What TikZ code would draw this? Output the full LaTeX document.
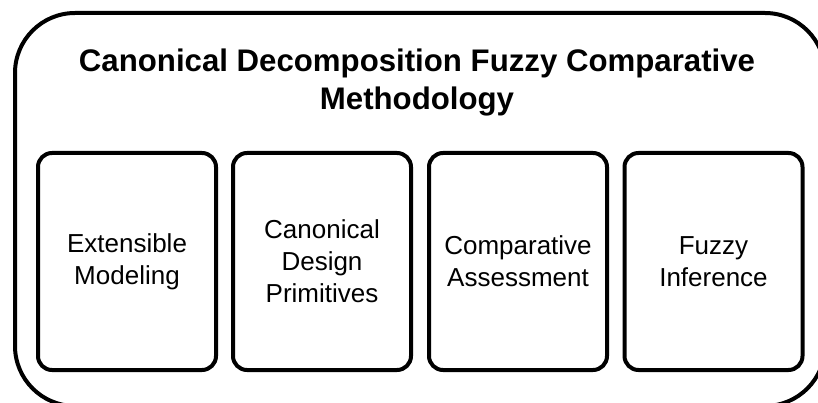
\documentclass[tikz,border=0pt]{standalone}
\usepackage{fontspec}
\setmainfont{Liberation Sans}
\begin{document}
\begin{tikzpicture}[x=1pt,y=-1pt,
  outerbox/.style={draw=black, line width=4pt, rounded corners=60pt},
  partbox/.style={draw=black, line width=4pt, rounded corners=14pt, minimum width=178pt, minimum height=217pt, inner sep=0pt, align=center, font=\fontsize{26}{32}\selectfont},
  titletext/.style={align=center, font=\fontsize{31.2}{38}\selectfont\bfseries, inner sep=0pt}]
\useasboundingbox (0,0) rectangle (818,403);
\begin{scope}
\clip (0,0) rectangle (818,403);
\draw[outerbox] (15,13) rectangle (825,406);
\end{scope}
\node[titletext, anchor=base] (title) at (417,110) {Canonical Decomposition Fuzzy Comparative\\Methodology};
\node[partbox] (p1) at (127,261.5) {Extensible\\Modeling};
\node[partbox] (p2) at (322,261.5) {Canonical\\Design\\Primitives};
\node[partbox] (p3) at (518,261.5) {Comparative\\Assessment};
\node[partbox] (p4) at (713.5,261.5) {Fuzzy\\Inference};
\end{tikzpicture}
\end{document}
